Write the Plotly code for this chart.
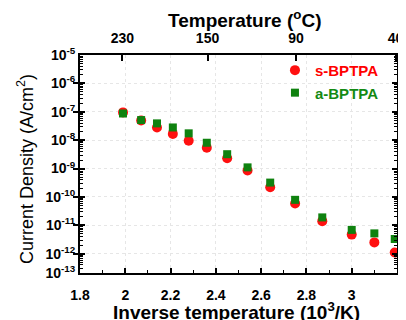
import plotly.graph_objects as go

# data (inverse temperature, 10^3/K) and current density (A/cm^2)
inv_temp = [1.99, 2.07, 2.14, 2.21, 2.28, 2.36, 2.45, 2.54, 2.64, 2.75, 2.87, 3.00, 3.10, 3.19]
s_bptpa = [9.5e-8, 4.9e-8, 2.8e-8, 1.66e-8, 9.5e-9, 5.4e-9, 2.3e-9, 8.5e-10, 2.2e-10,
           5.9e-11, 1.4e-11, 4.7e-12, 2.5e-12, 1.1e-12]
a_bptpa = [8.7e-8, 5.1e-8, 3.9e-8, 2.8e-8, 1.74e-8, 8.1e-9, 3.2e-9, 1.1e-9, 3.2e-10,
           7.9e-11, 1.9e-11, 6.9e-12, 5.2e-12, 3.3e-12]

top_temps_c = [230, 150, 90, 40]
y_tick_exps = [-5, -6, -7, -8, -9, -10, -11, -12]
y_bottom = -12.68

FONT = "Liberation Sans, Arial, sans-serif"

fig = go.Figure()
fig.add_trace(go.Scatter(
    x=inv_temp, y=s_bptpa, mode="markers",
    name="<span style='color:#ff0000'><b>s-BPTPA</b></span>",
    marker=dict(symbol="circle", size=10, color="#ff1010"),
))
fig.add_trace(go.Scatter(
    x=inv_temp, y=a_bptpa, mode="markers",
    name="<span style='color:#138a13'><b>a-BPTPA</b></span>",
    marker=dict(symbol="square", size=8, color="#0f820f"),
))

# helper traces so the extra axes are drawn
fig.add_trace(go.Scatter(x=[None], y=[None], xaxis="x2", yaxis="y", showlegend=False, hoverinfo="skip"))
fig.add_trace(go.Scatter(x=[None], y=[None], xaxis="x", yaxis="y2", showlegend=False, hoverinfo="skip"))

tickvals = [10 ** e for e in y_tick_exps] + [10 ** y_bottom]
ticktext = ["10<sup>%d</sup>" % e for e in y_tick_exps] + ["10<sup>-13</sup>"]

# plot area in window pixels; the page body adds an 8px offset
OFF = 8
PLOT_L, PLOT_R, PLOT_T, PLOT_B = 80, 397, 55, 273
PW, PH = PLOT_R - PLOT_L, PLOT_B - PLOT_T
FIG_W, FIG_H = 406 - OFF, 320 - OFF


def px_x(px):
    return (px - PLOT_L) / PW


def px_y(py):
    return (PLOT_B - py) / PH


fig.update_layout(
    width=FIG_W, height=FIG_H,
    margin=dict(l=PLOT_L - OFF, r=FIG_W - (PLOT_R - OFF), t=PLOT_T - OFF,
                b=FIG_H - (PLOT_B - OFF), autoexpand=False),
    paper_bgcolor="white", plot_bgcolor="white",
    font=dict(family=FONT, color="black"),
    showlegend=True,
    legend=dict(x=0.615, y=1.005, xanchor="left", yanchor="top",
                bgcolor="rgba(0,0,0,0)", font=dict(size=15, family=FONT),
                itemwidth=30, tracegroupgap=0),
    xaxis=dict(
        range=[1.8, 3.2], dtick=0.2, tick0=1.8, automargin=False,
        ticks="inside", ticklen=5, tickwidth=1.5, tickcolor="black",
        ticklabelstandoff=8,
        minor=dict(dtick=0.1, ticks="inside", ticklen=3, tickwidth=1, tickcolor="black", showgrid=False),
        showline=True, linewidth=2, linecolor="black", mirror=True,
        showgrid=True, gridcolor="#e6e6e6", griddash="dot", gridwidth=1,
        zeroline=False,
        tickfont=dict(size=14, family=FONT, weight="bold"),
    ),
    xaxis2=dict(
        overlaying="x", side="top", range=[1.8, 3.2], anchor="y", automargin=False,
        tickmode="array",
        tickvals=[1000.0 / (t + 273.15) for t in top_temps_c],
        ticktext=[str(t) for t in top_temps_c],
        ticks="inside", ticklen=6, tickwidth=1.5, tickcolor="black",
        ticklabelstandoff=8,
        showline=False, showgrid=False, zeroline=False,
        tickfont=dict(size=14, family=FONT, weight="bold"),
    ),
    yaxis=dict(
        type="log", range=[y_bottom, -5], automargin=False,
        tickmode="array", tickvals=tickvals, ticktext=ticktext,
        ticks="inside", ticklen=5, tickwidth=1.5, tickcolor="black",
        showline=True, linewidth=2, linecolor="black", mirror="allticks",
        showgrid=True, gridcolor="#e6e6e6", griddash="dot", gridwidth=1,
        zeroline=False,
        tickfont=dict(size=14, family=FONT, weight="bold"),
    ),
    yaxis2=dict(
        type="log", range=[y_bottom, -5], overlaying="y", anchor="x", side="left",
        automargin=False,
        dtick="D1", showticklabels=False,
        ticks="inside", ticklen=3, tickwidth=1, tickcolor="black",
        showline=True, linewidth=2, linecolor="black", mirror="allticks",
        showgrid=False, zeroline=False,
    ),
    annotations=[
        dict(text="<b>Inverse temperature (10<sup>3</sup>/K)</b>",
             xref="paper", yref="paper", x=px_x(236), y=px_y(311),
             xanchor="center", yanchor="middle", showarrow=False,
             font=dict(size=19, family=FONT, color="black")),
        dict(text="<b>Temperature (<sup>o</sup>C)</b>",
             xref="paper", yref="paper", x=px_x(244), y=px_y(19),
             xanchor="center", yanchor="middle", showarrow=False,
             font=dict(size=19, family=FONT, color="black")),
        dict(text="Current Density (A/cm<sup>2</sup>)",
             xref="paper", yref="paper", x=px_x(25), y=px_y(169), textangle=-90,
             xanchor="center", yanchor="middle", showarrow=False,
             font=dict(size=18, family=FONT, color="black")),
    ],
)

fig.write_html("out.html", config={"displayModeBar": False})
